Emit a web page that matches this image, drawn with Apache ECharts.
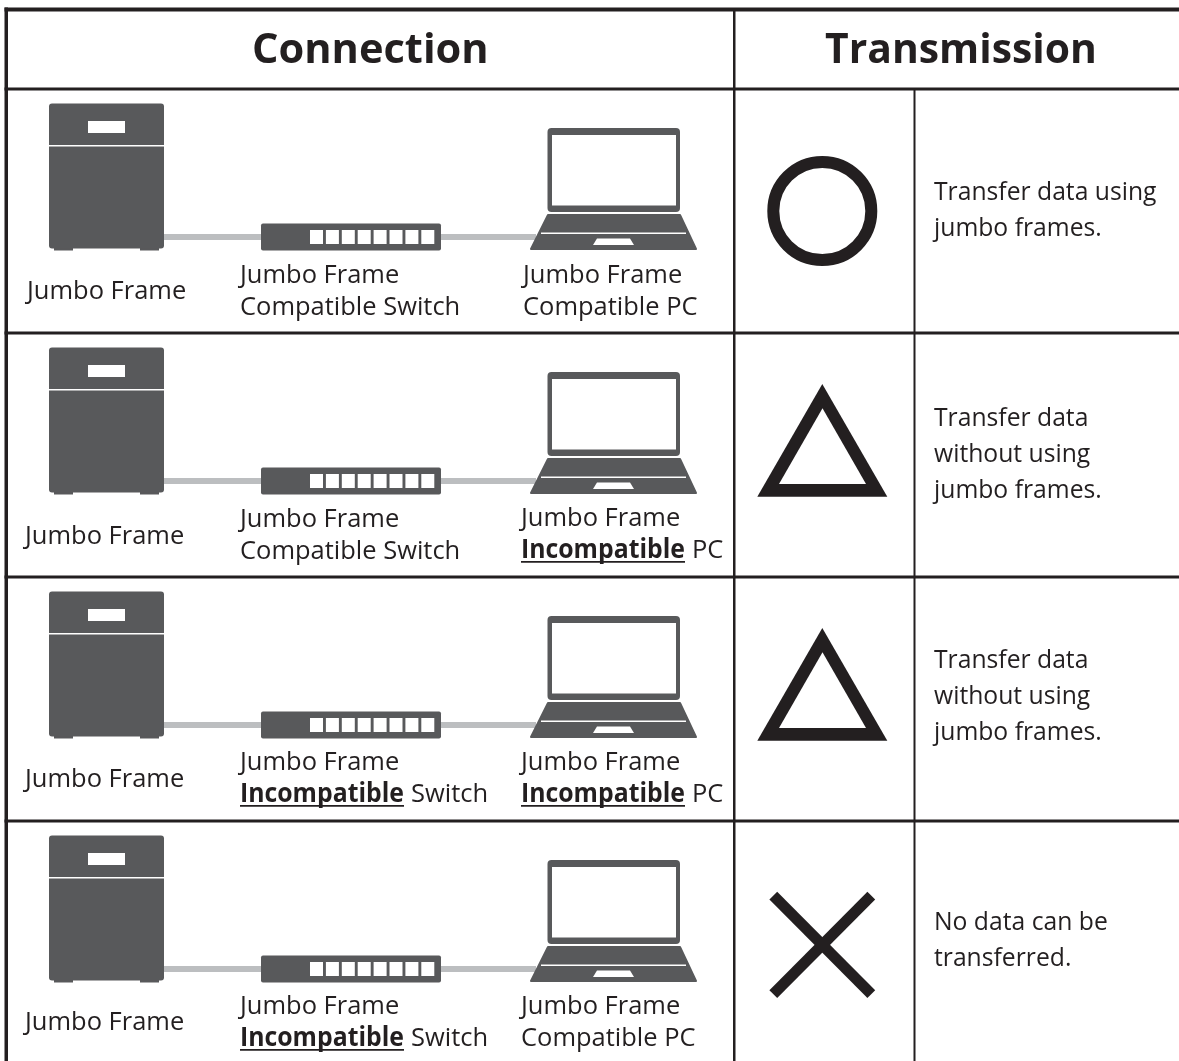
<!DOCTYPE html>
<html>
<head>
<meta charset="utf-8">
<style>html,body{margin:0;padding:0;background:#fff}</style>
<script src="https://cdn.jsdelivr.net/npm/echarts@6/dist/echarts.min.js"></script>
</head>
<body>
<div id="main" style="width:1179px;height:1061px"></div>
<script type="text/javascript">
// table content
var headers = ['Connection', 'Transmission'];
var nasLabels = ['Jumbo Frame', 'Jumbo Frame', 'Jumbo Frame', 'Jumbo Frame'];
var switchLine2 = [
	['', 'Compatible Switch'],
	['', 'Compatible Switch'],
	['Incompatible', 'Switch'],
	['Incompatible', 'Switch']
];
var pcLine2 = [
	['', 'Compatible PC'],
	['Incompatible', 'PC'],
	['Incompatible', 'PC'],
	['', 'Compatible PC']
];
var lineOne = 'Jumbo Frame';
var results = ['circle', 'triangle', 'triangle', 'cross'];
var resultText = [
	['Transfer data using', 'jumbo frames.'],
	['Transfer data', 'without using', 'jumbo frames.'],
	['Transfer data', 'without using', 'jumbo frames.'],
	['No data can be', 'transferred.']
];

// layout, per row
var rowTop = [89, 333, 577, 821];
var nasPos = [[27, 299], [25, 544], [25, 787], [25, 1030]];
var switchBase = [283, 527, 770, 1014];
var pcPos = [[523, 283], [521, 526], [521, 770], [521, 1014]];
var resultBase = [200, 426, 668, 930];

var DARK = '#231f20', ICON = '#58595b', CABLE = '#bcbec0';
var FONT = '"Open Sans"';
var SIZE = 26, SX = 0.98;

function makeHelpers(api) {
	var h = {};
	h.rect = function (x0, y0, x1, y1, fill, r) {
		var a = api.coord([x0, y0]), b = api.coord([x1, y1]);
		return { type: 'rect', shape: { x: a[0], y: a[1], width: b[0] - a[0], height: b[1] - a[1], r: r || 0 }, style: { fill: fill } };
	};
	h.poly = function (pts, style) {
		return { type: 'polygon', shape: { points: pts.map(function (p) { return api.coord(p); }) }, style: style };
	};
	// y is the baseline
	h.text = function (str, x, y, bold, size, sx) {
		var p = api.coord([x, y - (size || SIZE) * 0.285]);
		return {
			type: 'text', x: p[0], y: p[1], scaleX: sx || SX,
			style: { text: str, x: 0, y: 0, fill: DARK, font: (bold ? 'bold ' : '') + (size || SIZE) + 'px ' + FONT, textAlign: 'left', verticalAlign: 'middle' }
		};
	};
	return h;
}

function renderFrame(params, api) {
	var h = makeHelpers(api), kids = [];
	kids.push(h.rect(4.5, 7.5, 1179, 11.5, DARK));
	kids.push(h.rect(4.5, 7.5, 8, 1061, DARK));
	kids.push(h.rect(733, 10, 735.5, 1061, DARK));
	kids.push(h.rect(913.5, 89, 915.5, 1061, DARK));
	rowTop.forEach(function (y) {
		kids.push(h.rect(4.5, y - 1.5, 1179, y + 1.5, DARK));
	});
	kids.push(h.text(headers[0], 252, 63, true, 42, 0.99));
	kids.push(h.text(headers[1], 825, 63, true, 42, 0.973));
	return { type: 'group', children: kids };
}

function renderRow(params, api) {
	var i = api.value(0), t = rowTop[i], h = makeHelpers(api), kids = [], k;
	// cables go first, the boxes sit on top
	kids.push(h.rect(164, t + 145, 262, t + 151, CABLE));
	kids.push(h.rect(440, t + 145, 536, t + 151, CABLE));
	// nas
	kids.push(h.rect(54, t + 155, 73, t + 161.5, ICON));
	kids.push(h.rect(140, t + 155, 159, t + 161.5, ICON));
	kids.push(h.rect(49, t + 14.5, 164, t + 159.5, ICON, 3));
	kids.push(h.rect(88, t + 32, 125, t + 44, '#fff'));
	kids.push(h.rect(49, t + 56, 164, t + 57.5, '#fff'));
	// switch
	kids.push(h.rect(261, t + 134.5, 441, t + 161.5, ICON, 2));
	for (k = 0; k < 8; k++) {
		kids.push(h.rect(310 + k * 15.9, t + 141, 323 + k * 15.9, t + 155, '#fff'));
	}
	// laptop
	kids.push(h.rect(547.5, t + 39, 680, t + 123, ICON, 4));
	kids.push(h.rect(552, t + 46, 676, t + 116.5, '#fff'));
	kids.push(h.poly([[548, t + 126], [680, t + 126], [696, t + 160], [531, t + 160]], { fill: ICON, stroke: ICON, lineWidth: 2, lineJoin: 'round' }));
	kids.push(h.rect(541, t + 143.5, 686, t + 145, '#fff'));
	kids.push(h.poly([[597, t + 149.5], [630, t + 149.5], [634, t + 156], [593, t + 156]], { fill: '#fff' }));
	// result mark
	if (results[i] === 'circle') {
		var c = api.coord([822.3, t + 122]);
		kids.push({ type: 'circle', shape: { cx: c[0], cy: c[1], r: 49 }, style: { fill: 'none', stroke: DARK, lineWidth: 12 } });
	} else if (results[i] === 'triangle') {
		kids.push(h.poly([[822.3, t + 51], [887.3, t + 163.7], [757.3, t + 163.7]], { fill: DARK }));
		kids.push(h.poly([[822.5, t + 75.3], [866, t + 151], [779, t + 151]], { fill: '#fff' }));
	} else {
		[[[773.3, t + 74.7], [871.3, t + 173.2]], [[871.3, t + 74.7], [773.3, t + 173.2]]].forEach(function (s) {
			var a = api.coord(s[0]), b = api.coord(s[1]);
			kids.push({ type: 'line', shape: { x1: a[0], y1: a[1], x2: b[0], y2: b[1] }, style: { stroke: DARK, lineWidth: 11 } });
		});
	}
	// labels
	kids.push(h.text(nasLabels[i], nasPos[i][0], nasPos[i][1]));
	kids.push(h.text(lineOne, 240, switchBase[i]));
	kids.push(h.text(lineOne, pcPos[i][0], pcPos[i][1]));
	drawSecond(h, kids, switchLine2[i], 240, switchBase[i] + 32, 411);
	drawSecond(h, kids, pcLine2[i], pcPos[i][0], pcPos[i][1] + 32, 692);
	resultText[i].forEach(function (s, n) {
		kids.push(h.text(s, 934, resultBase[i] + n * 36, false, SIZE, 0.95));
	});
	return { type: 'group', children: kids };
}

function drawSecond(h, kids, parts, x, base, tailX) {
	if (parts[0]) {
		kids.push(h.text(parts[0], x, base, true, SIZE, 0.954));
		kids.push(h.rect(x, base + 3, x + 164, base + 4.8, DARK));
		kids.push(h.text(parts[1], tailX, base));
	} else {
		kids.push(h.text(parts[1], x, base));
	}
}

var myChart = echarts.init(document.getElementById('main'));
var option = {
	animation: false,
	backgroundColor: '#fff',
	grid: { left: 0, right: 0, top: 0, bottom: 0 },
	xAxis: { type: 'value', min: 0, max: 1179, show: false },
	yAxis: { type: 'value', min: 0, max: 1061, inverse: true, show: false },
	series: [
		{ type: 'custom', renderItem: renderFrame, data: [[0]], silent: true, clip: false },
		{ type: 'custom', renderItem: renderRow, data: [[0], [1], [2], [3]], silent: true, clip: false }
	]
};
myChart.setOption(option);
</script>
</body>
</html>
